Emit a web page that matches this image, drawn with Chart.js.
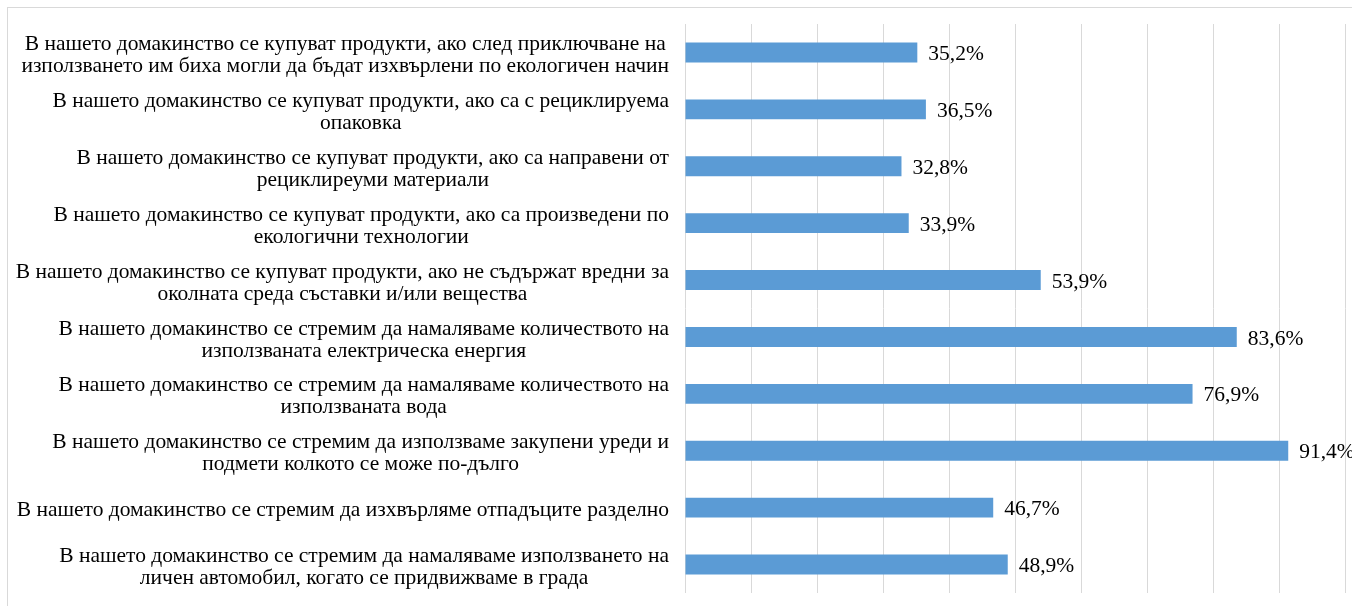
<!DOCTYPE html>
<html>
<head>
<meta charset="utf-8">
<script src="https://cdn.jsdelivr.net/npm/chart.js@4/dist/chart.umd.min.js"></script>
<style>
  html, body { margin: 0; padding: 0; background: #fff; overflow: hidden; }
  #wrap { position: relative; width: 1352px; height: 606px; }
  #frame { position: absolute; left: 7px; top: 7px; width: 1400px; height: 700px; border: 1px solid #d9d9d9; box-sizing: border-box; }
  canvas { position: absolute; left: 0; top: 0; }
</style>
</head>
<body>
<div id="wrap">
  <div id="frame"></div>
  <canvas id="chart" width="1352" height="606"></canvas>
</div>
<script>
// category labels, already wrapped like in the original
const categories = [
  ['В нашето домакинство се купуват продукти, ако след приключване на', 'използването им биха могли да бъдат изхвърлени по екологичен начин'],
  ['В нашето домакинство се купуват продукти, ако са с рециклируема', 'опаковка'],
  ['В нашето домакинство се купуват продукти, ако са направени от', 'рециклиреуми материали'],
  ['В нашето домакинство се купуват продукти, ако са произведени по', 'екологични технологии'],
  ['В нашето домакинство се купуват продукти, ако не съдържат вредни за', 'околната среда съставки и/или вещества'],
  ['В нашето домакинство се стремим да намаляваме количеството на', 'използваната електрическа енергия'],
  ['В нашето домакинство се стремим да намаляваме количеството на', 'използваната вода'],
  ['В нашето домакинство се стремим да използваме закупени уреди и', 'подмети колкото се може по-дълго'],
  ['В нашето домакинство се стремим да изхвърляме отпадъците разделно'],
  ['В нашето домакинство се стремим да намаляваме използването на', 'личен автомобил, когато се придвижваме в града']
]
const values = [35.2, 36.5, 32.8, 33.9, 53.9, 83.6, 76.9, 91.4, 46.7, 48.9]
const xMin = 0
const xMax = 100
const xStep = 10

const FONT = '21.5px "Liberation Serif", "Times New Roman", serif'

// wrapped category labels: block right aligned to the axis, lines centered inside it
const categoryText = {
  id: 'categoryText',
  afterDraw(chart) {
    const { ctx, scales: { y } } = chart
    ctx.save()
    ctx.font = FONT
    ctx.fillStyle = '#000'
    ctx.textBaseline = 'middle'
    ctx.textAlign = 'center'
    const right = 669
    const lineH = 22
    categories.forEach((lines, i) => {
      const yc = y.getPixelForTick(i) + 3
      const w = Math.max(...lines.map(l => ctx.measureText(l).width))
      const cx = right - w / 2
      const y0 = yc - (lines.length - 1) * lineH / 2
      lines.forEach((l, j) => ctx.fillText(l, cx, y0 + j * lineH))
    })
    ctx.restore()
  }
}

// percent labels at the end of each bar
const valueText = {
  id: 'valueText',
  afterDatasetsDraw(chart) {
    const { ctx } = chart
    ctx.save()
    ctx.font = FONT
    ctx.fillStyle = '#000'
    ctx.textBaseline = 'middle'
    ctx.textAlign = 'left'
    chart.getDatasetMeta(0).data.forEach((bar, i) => {
      ctx.fillText(values[i].toFixed(1).replace('.', ',') + '%', bar.x + 11, bar.y + 2)
    })
    ctx.restore()
  }
}

const chart = new Chart(document.getElementById('chart'), {
  type: 'bar',
  data: {
    labels: categories,
    datasets: [{
      data: values,
      backgroundColor: '#5b9bd5',
      borderWidth: 0,
      categoryPercentage: 1,
      barPercentage: 0.35
    }]
  },
  options: {
    indexAxis: 'y',
    responsive: false,
    animation: false,
    layout: { padding: { left: 685, top: 24, right: 7, bottom: 13 } },
    plugins: { legend: { display: false }, tooltip: { enabled: false } },
    scales: {
      x: {
        min: xMin,
        max: xMax,
        ticks: { stepSize: xStep, display: false },
        grid: { color: '#d9d9d9', lineWidth: 1, drawTicks: false },
        border: { display: false }
      },
      y: {
        ticks: { display: false },
        grid: { display: false, drawTicks: false },
        border: { display: false },
        afterFit(scale) { scale.width = 0 }
      }
    }
  },
  plugins: [categoryText, valueText]
})
</script>
</body>
</html>
